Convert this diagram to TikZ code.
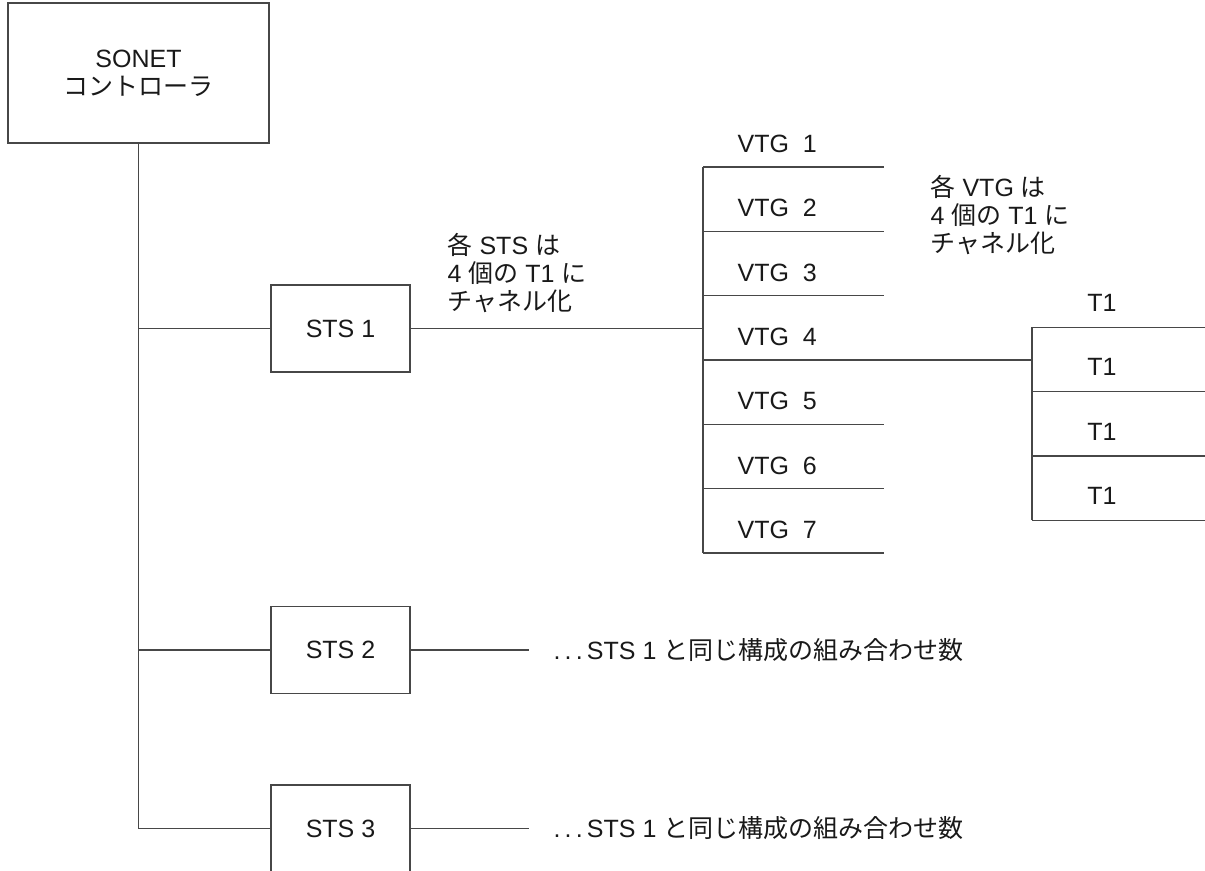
\documentclass[tikz,border=0pt]{standalone}
\usepackage{fontspec}
\setmainfont{Liberation Sans}
\newfontfamily\jpfont{Noto Sans CJK JP}
\newcommand{\jtext}[1]{{\jpfont #1}}
\usetikzlibrary{positioning}

\begin{document}
\begin{tikzpicture}[x=0.5pt,y=-0.5pt, line width=0.6pt, color=black!72,
	every node/.style={font=\fontsize{12.5}{14.2}\selectfont, text=black!90},
	box/.style={draw, inner sep=0pt},
	stsbox/.style={box, minimum width=69.5pt, minimum height=43.5pt},
	lbl/.style={anchor=west, align=left, inner sep=0pt}]
	
	\useasboundingbox (0,0) rectangle (1205,871);
	\clip (0,0) rectangle (1205,871);
	
	\node[box, minimum width=130.5pt, minimum height=70pt, align=center] (sonet) at (138.5,73) {SONET\\\jtext{コントローラ}};
	\node[stsbox] (sts1) at (340.5,328.5) {STS 1};
	\node[stsbox] (sts2) at (340.5,650) {STS 2};
	\node[stsbox] (sts3) at (340.5,828.5) {STS 3};
	
	\coordinate (vbustop) at (703,167);
	\coordinate (vbusbot) at (703,553);
	\coordinate (vtgout) at (703,360);
	\coordinate (tbustop) at (1032,327.3);
	\coordinate (tbusbot) at (1032,520.3);
	\coordinate (sts2end) at (529,650);
	\coordinate (sts3end) at (529,828.5);
	
	% trunk from the controller
	\draw (sonet.south) |- (sts3.west);
	\draw (sonet.south |- sts1.west) -- (sts1.west);
	\draw (sonet.south |- sts2.west) -- (sts2.west);
	\draw (sts2.east) -- (sts2end);
	\draw (sts3.east) -- (sts3end);
	
	% VTG stack
	\draw (sts1.east) -- (sts1.east -| vbustop);
	\draw (vbustop) -- (vbusbot);
	\foreach \k in {0,...,6} \draw (703,{167+\k*64.33}) -- ++(181,0);
	\draw (vtgout) -- (vtgout -| tbustop);
	\foreach \k in {1,...,7} \node[lbl] (vtg\k) at (737,{144+(\k-1)*64.33}) {VTG\ \ \k};
	
	% T1 stack
	\draw (tbustop) -- (tbusbot);
	\foreach \k in {0,...,3} \draw (1032,{327.3+\k*64.33}) -- ++(200,0);
	\foreach \k in {1,...,4} \node (tone\k) at (1102,{303+(\k-1)*64.33}) {T1};
	
	\node[lbl] (stsnote) at (447,273) {\jtext{各} STS \jtext{は}\\4 \jtext{個の} T1 \jtext{に}\\\jtext{チャネル化}};
	\node[lbl] (vtgnote) at (930,215) {\jtext{各} VTG \jtext{は}\\4 \jtext{個の} T1 \jtext{に}\\\jtext{チャネル化}};
	\node[lbl] (sts2note) at (553,650) {.\,.\,.\,STS 1 \jtext{と同じ構成の組み合わせ数}};
	\node[lbl] (sts3note) at (553,828.5) {.\,.\,.\,STS 1 \jtext{と同じ構成の組み合わせ数}};
	
\end{tikzpicture}
\end{document}
